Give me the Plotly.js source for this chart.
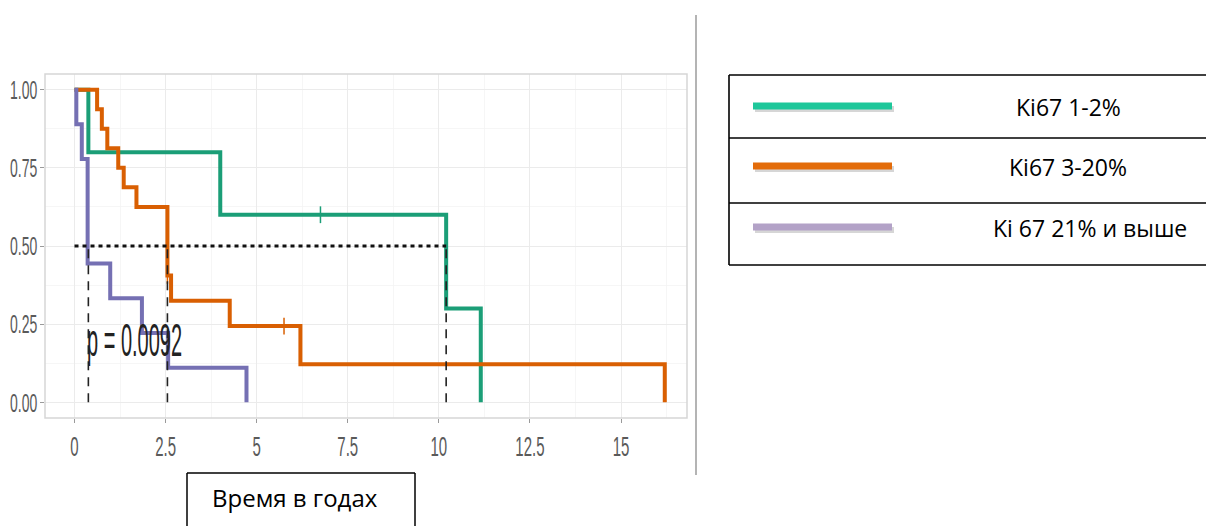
<!DOCTYPE html>
<html>
<head>
<meta charset="utf-8">
<script src="https://cdn.plot.ly/plotly-3.0.1.min.js"></script>
<style>
  html, body { margin: 0; padding: 0; background: #ffffff; }
  #chart { width: 1206px; height: 526px; }
</style>
</head>
<body>
<div id="chart"></div>
<script>
// ---- data ----
const groups = ["Ki67 1-2%", "Ki67 3-20%", "Ki 67 21% и выше"];

const timeG1 = [0, 0.38, 4.0, 10.2, 11.15];
const survG1 = [1, 0.8, 0.6, 0.3, 0];
const censorTimeG1 = [6.75];
const censorSurvG1 = [0.6];

const timeG2 = [0, 0.62, 0.75, 0.9, 1.2, 1.35, 1.7, 2.55, 2.65, 4.26, 6.2, 16.2];
const survG2 = [1, 0.9375, 0.875, 0.8125, 0.75, 0.6875, 0.625, 0.406, 0.325, 0.244, 0.122, 0];
const censorTimeG2 = [2.55, 5.75];
const censorSurvG2 = [0.406, 0.244];

const timeG3 = [0, 0.05, 0.2, 0.36, 0.98, 1.85, 2.57, 4.72];
const survG3 = [1, 0.889, 0.778, 0.444, 0.333, 0.222, 0.111, 0];

const medianTimes = [10.2, 2.55, 0.38];
const medianLevel = 0.5;

const pValueText = "p = 0.0092";
const xAxisLabel = "Время в годах";

const xTickVals = [0, 2.5, 5, 7.5, 10, 12.5, 15];
const xTickText = ["0", "2.5", "5", "7.5", "10", "12.5", "15"];
const yTickVals = [0, 0.25, 0.5, 0.75, 1];
const yTickText = ["0.00", "0.25", "0.50", "0.75", "1.00"];

// ---- styles ----
const curveColors = ["#1b9e77", "#d95f02", "#7570b3"];
const legendColors = ["#1ec79a", "#e36c0a", "#b3a2c7"];
const tickFontFamily = "Liberation Sans, Arial, sans-serif";
const textFont = "Open Sans, Noto Sans, Liberation Sans, sans-serif";

const curves = [[timeG1, survG1], [timeG2, survG2], [timeG3, survG3]];
const traces = curves.map((c, i) => ({
  x: c[0], y: c[1], type: "scatter", mode: "lines",
  line: { shape: "hv", color: curveColors[i], width: 4 },
  name: groups[i], showlegend: false, hoverinfo: "skip"
}));

traces.push({
  x: censorTimeG1, y: censorSurvG1, type: "scatter", mode: "markers",
  marker: { symbol: "line-ns-open", size: 12, color: curveColors[0], line: { color: curveColors[0], width: 1.5 } },
  showlegend: false, hoverinfo: "skip"
});
traces.push({
  x: censorTimeG2, y: censorSurvG2, type: "scatter", mode: "markers",
  marker: { symbol: "line-ns-open", size: 12, color: curveColors[1], line: { color: curveColors[1], width: 1.5 } },
  showlegend: false, hoverinfo: "skip"
});

// median lines
const vx = [], vy = [];
medianTimes.forEach(m => { vx.push(m, m, null); vy.push(0, medianLevel, null); });
traces.push({
  x: vx, y: vy, type: "scatter", mode: "lines",
  line: { color: "#222222", width: 1.6, dash: "9px,7px" },
  showlegend: false, hoverinfo: "skip"
});
traces.push({
  x: [0, Math.max(...medianTimes)], y: [medianLevel, medianLevel], type: "scatter", mode: "lines",
  line: { color: "#111111", width: 3, dash: "4px,4px" },
  showlegend: false, hoverinfo: "skip"
});

// ---- decorations (paper coords) ----
const L = 45, R = 687, T = 74, B = 418;
const px = v => (v - L) / (R - L);
const py = v => (B - v) / (B - T);

const shapes = [
  { type: "rect", xref: "paper", yref: "paper", x0: 0, x1: 1, y0: 0, y1: 1,
    line: { color: "#d6d6d6", width: 1.5 }, layer: "above" },
  { type: "line", xref: "paper", yref: "paper", x0: px(696), x1: px(696), y0: py(15), y1: py(475),
    line: { color: "#b4b4b4", width: 2 } },
  // legend table
  { type: "line", xref: "paper", yref: "paper", x0: px(729), x1: px(1212), y0: py(75), y1: py(75), line: { color: "#000", width: 1.6 } },
  { type: "line", xref: "paper", yref: "paper", x0: px(729), x1: px(1212), y0: py(138), y1: py(138), line: { color: "#000", width: 1.6 } },
  { type: "line", xref: "paper", yref: "paper", x0: px(729), x1: px(1212), y0: py(203), y1: py(203), line: { color: "#000", width: 1.6 } },
  { type: "line", xref: "paper", yref: "paper", x0: px(729), x1: px(1212), y0: py(265), y1: py(265), line: { color: "#000", width: 1.6 } },
  { type: "line", xref: "paper", yref: "paper", x0: px(729), x1: px(729), y0: py(75), y1: py(265), line: { color: "#000", width: 1.6 } },
  // x label box
  { type: "line", xref: "paper", yref: "paper", x0: px(187), x1: px(415), y0: py(473), y1: py(473), line: { color: "#000", width: 1.5 } },
  { type: "line", xref: "paper", yref: "paper", x0: px(187), x1: px(187), y0: py(473), y1: py(540), line: { color: "#000", width: 1.5 } },
  { type: "line", xref: "paper", yref: "paper", x0: px(415), x1: px(415), y0: py(473), y1: py(540), line: { color: "#000", width: 1.5 } }
];

const rowY = [106, 166, 227];
const textX = [1068, 1068, 1090];
const annotations = [];
groups.forEach((g, i) => {
  shapes.push({ type: "line", xref: "paper", yref: "paper", x0: px(755), x1: px(894), y0: py(rowY[i] + 3), y1: py(rowY[i] + 3),
    line: { color: "rgba(0,0,0,0.16)", width: 6 } });
  shapes.push({ type: "line", xref: "paper", yref: "paper", x0: px(753), x1: px(892), y0: py(rowY[i]), y1: py(rowY[i]),
    line: { color: legendColors[i], width: 7 } });
  annotations.push({ xref: "paper", yref: "paper", x: px(textX[i]), y: py(rowY[i] + 1), text: g, showarrow: false,
    xanchor: "center", yanchor: "middle", font: { family: textFont, size: 23, color: "#000" } });
});
annotations.push({ xref: "paper", yref: "paper", x: px(295), y: py(497), text: xAxisLabel, showarrow: false,
  xanchor: "center", yanchor: "middle", font: { family: textFont, size: 24, color: "#000" } });
annotations.push({ xref: "x", yref: "y", x: 1.64, y: 0.2, text: pValueText, showarrow: false,
  xanchor: "center", yanchor: "middle", font: { family: "Liberation Sans, Arial, sans-serif", size: 20, color: "#222" } });

const layout = {
  width: 1206, height: 526,
  margin: { l: L, r: 1206 - R, t: T, b: 526 - B, pad: 0 },
  paper_bgcolor: "#ffffff", plot_bgcolor: "#ffffff",
  showlegend: false,
  xaxis: {
    range: [-0.81, 16.81], tickvals: xTickVals, ticktext: xTickText,
    showgrid: true, gridcolor: "#ebebeb", gridwidth: 1, zeroline: false,
    minor: { dtick: 1.25, tick0: 0, showgrid: true, gridcolor: "#f4f4f4", gridwidth: 0.8 },
    ticks: "outside", ticklen: 4, tickcolor: "#9a9a9a", tickwidth: 1,
    tickfont: { family: tickFontFamily, size: 15, color: "#5a5a5a" }, ticklabelstandoff: 11,
    showline: false, fixedrange: true
  },
  yaxis: {
    range: [-0.05, 1.05], tickvals: yTickVals, ticktext: yTickText,
    showgrid: true, gridcolor: "#ebebeb", gridwidth: 1, zeroline: false,
    minor: { dtick: 0.125, tick0: 0, showgrid: true, gridcolor: "#f4f4f4", gridwidth: 0.8 },
    ticks: "outside", ticklen: 4, tickcolor: "#9a9a9a", tickwidth: 1,
    tickfont: { family: tickFontFamily, size: 14, color: "#5a5a5a" },
    showline: false, fixedrange: true
  },
  shapes: shapes,
  annotations: annotations
};

// the reference draws the p-value and the tick labels tall and narrow: stretch those texts vertically
const pIndex = annotations.length - 1;
const st = document.createElement("style");
st.textContent =
  'g.annotation[data-index="' + pIndex + '"] text.annotation-text {' +
  ' transform-box: fill-box; transform-origin: center; transform: scaleY(2.3); }' +
  ' g.xtick, g.ytick { transform-box: fill-box; transform-origin: center; transform: scaleY(1.85); }';
document.head.appendChild(st);

Plotly.newPlot("chart", traces, layout, { displayModeBar: false, staticPlot: true });
</script>
</body>
</html>
